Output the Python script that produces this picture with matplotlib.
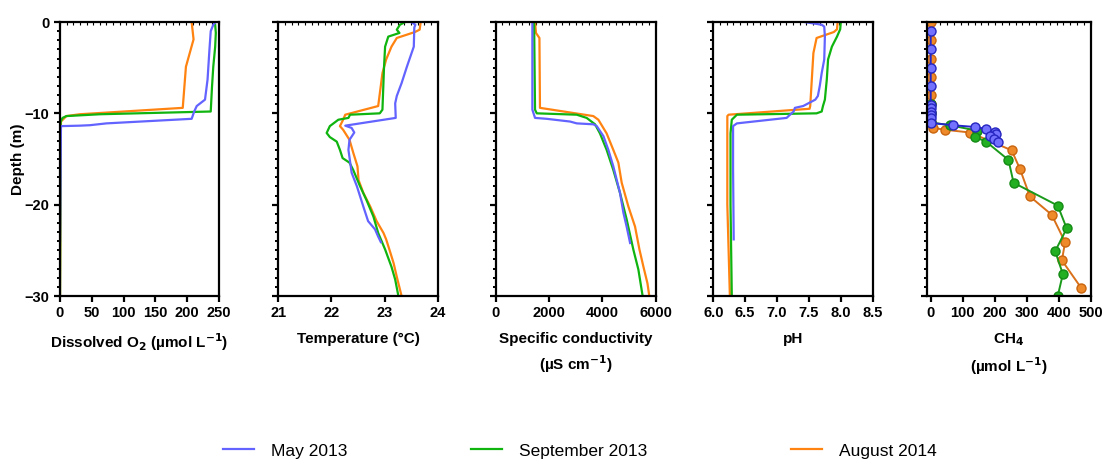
import matplotlib
matplotlib.use("Agg")
import matplotlib.pyplot as plt
import numpy as np

plt.rcParams['font.family'] = ['Liberation Sans', 'DejaVu Sans']
plt.rcParams['font.weight'] = 'bold'

# ---- datos ----
# Oxigeno disuelto (umol/L)
may_o2_d = [0, -0.3, -1.0, -3, -6.3, -8.5, -9.2, -9.8, -10.6, -11.1, -11.3, -11.35, -11.4, -24]
may_o2 = [245, 241, 237, 235, 232, 228, 215, 211, 207, 73, 47, 31, 1.5, 0]
sep_o2_d = [-0.3, -1.2, -2.7, -4.9, -7.1, -9.8, -10.1, -10.3, -10.5, -10.9, -30]
sep_o2 = [244, 245, 244, 241, 239, 237, 63, 10, 4, 1, 0]
aug_o2_d = [0, -1.9, -4.9, -9.4, -10.1, -10.3, -10.9, -30]
aug_o2 = [207, 210, 198, 193, 31, 10, 1.5, 0]

# Temperatura (C)
may_t_d = [0, -0.3, -0.6, -2.7, -4.9, -6.7, -8.1, -8.9, -10.5, -11.35, -11.6, -12.1, -12.9,
           -14.0, -16.5, -18.0, -20.2, -21.8, -22.7, -23.5, -24.1]
may_t = [23.50, 23.58, 23.56, 23.55, 23.42, 23.32, 23.23, 23.20, 23.21, 22.26, 22.38, 22.43, 22.34,
         22.32, 22.38, 22.48, 22.60, 22.69, 22.82, 22.88, 22.93]
sep_t_d = [0, -0.3, -0.84, -1.2, -1.6, -2.7, -4.9, -9.6, -10.0, -10.15, -10.5, -10.7, -11.4, -12.15,
           -12.6, -13.1, -14.0, -14.9, -15.4, -16.2, -18.0, -19.5, -21.3, -23.1, -24.9, -26.8, -28.2, -30]
sep_t = [23.39, 23.29, 23.23, 23.28, 23.07, 23.01, 22.99, 22.96, 22.91, 22.35, 22.32, 22.13, 21.97, 21.91,
         21.97, 22.10, 22.16, 22.21, 22.34, 22.41, 22.54, 22.66, 22.79, 22.88, 23.01, 23.13, 23.20, 23.26]
aug_t_d = [0, -0.84, -1.1, -1.75, -2.7, -4.1, -5.6, -9.2, -10.15, -10.7, -11.4, -11.8, -12.9, -14.3,
           -15.8, -17.3, -18.7, -20.2, -21.8, -23.1, -23.8, -24.9, -26.4, -27.9, -30]
aug_t = [23.68, 23.66, 23.57, 23.23, 23.13, 23.03, 22.96, 22.88, 22.26, 22.22, 22.16, 22.22, 22.34, 22.41,
         22.49, 22.51, 22.60, 22.73, 22.85, 22.98, 23.03, 23.09, 23.17, 23.23, 23.32]

# Conductividad especifica (uS/cm)
may_c_d = [0, -9.6, -10.5, -10.6, -10.9, -11.1, -11.2, -11.4, -12.5, -14.0, -15.8, -18.7, -20.9, -22.4, -24.2]
may_c = [1375, 1375, 1475, 1910, 2790, 3040, 3660, 3790, 4040, 4225, 4410, 4660, 4790, 4910, 5040]
sep_c_d = [0, -9.6, -10.0, -10.15, -10.5, -11.2, -12.2, -14.0, -16.2, -18.7, -21.6, -24.9, -27.1, -30]
sep_c = [1440, 1475, 1540, 3040, 3410, 3725, 3910, 4160, 4410, 4660, 4910, 5160, 5350, 5510]
aug_c_d = [0, -1.2, -1.75, -9.4, -10.3, -10.7, -12.2, -14.0, -15.4, -17.6, -20.2, -22.4, -24.9, -26.8, -28.6, -30]
aug_c = [1475, 1510, 1640, 1660, 3660, 3850, 4160, 4410, 4600, 4725, 4975, 5225, 5390, 5540, 5690, 5760]

# pH
may_ph_d = [0, -0.1, -0.3, -0.5, -1.6, -4.1, -5.6, -7.0, -8.1, -8.5, -9.2, -9.4, -9.8, -10.3, -10.5,
            -11.1, -11.4, -16, -23.8]
may_ph = [7.43, 7.52, 7.70, 7.74, 7.75, 7.74, 7.70, 7.67, 7.64, 7.60, 7.41, 7.28, 7.26, 7.18, 7.15,
          6.37, 6.31, 6.31, 6.32]
sep_ph_d = [0, -0.8, -1.6, -2.7, -4.1, -6.3, -8.5, -9.2, -9.8, -10.0, -10.15, -10.7, -12.2, -20, -30]
sep_ph = [8.0, 7.99, 7.94, 7.86, 7.80, 7.78, 7.75, 7.72, 7.70, 7.62, 6.37, 6.29, 6.27, 6.27, 6.29]
aug_ph_d = [0, -0.8, -1.1, -1.75, -3.4, -9.2, -9.5, -10.15, -10.3, -20, -30]
aug_ph = [7.95, 7.94, 7.89, 7.62, 7.57, 7.52, 7.51, 6.24, 6.22, 6.22, 6.26]

# CH4 (umol/L)
aug_ch4_d = [0, -2, -4, -6, -8, -9, -10, -11, -11.6, -11.8, -12.1, -14.05, -16.1, -19.1, -21.1, -24.1, -26.1, -29.1]
aug_ch4 = [0, 0, 0, 0, 0, 0, 0, 0, 8, 45, 123, 253, 279, 310, 378, 420, 410, 470]
sep_ch4_d = [-9, -10, -11, -11.3, -11.9, -12.6, -13.1, -15.1, -17.6, -20.1, -22.6, -25.1, -27.6, -30]
sep_ch4 = [0, 0, 0, 60, 145, 139, 173, 243, 259, 397, 425, 389, 413, 397]
may_ch4_d = [-1, -3, -5, -7, -9.05, -9.4, -9.8, -10.15, -10.5, -11.05, -11.3, -11.5, -11.7, -12.0,
             -12.3, -12.5, -12.8, -13.1]
may_ch4 = [0, 0, 0, 0, 0, 0, 0, 0, 0, 0, 69, 139, 173, 201, 205, 185, 198, 209]

etiquetas = ['May 2013', 'September 2013', 'August 2014']
col_may, col_sep, col_aug = '#6363ff', '#0fb40f', '#ff8310'

fig = plt.figure(figsize=(11.03, 4.62), dpi=100)

W, H = 1103.0, 462.0
bottom = 1 - 296 / H
height = (296 - 22) / H
posiciones = [(60, 159), (278.3, 159.4), (495.7, 160), (713.3, 159.4), (926.7, 164)]
ejes = [fig.add_axes([x / W, bottom, w / W, height]) for x, w in posiciones]

paneles = [
    (ejes[0], [(may_o2, may_o2_d), (sep_o2, sep_o2_d), (aug_o2, aug_o2_d)],
     (0, 250), [0, 50, 100, 150, 200, 250], 'Dissolved O$_\\mathbf{2}$ (µmol L$^{\\mathbf{-1}}$)'),
    (ejes[1], [(may_t, may_t_d), (sep_t, sep_t_d), (aug_t, aug_t_d)],
     (21, 24), [21, 22, 23, 24], 'Temperature (°C)'),
    (ejes[2], [(may_c, may_c_d), (sep_c, sep_c_d), (aug_c, aug_c_d)],
     (0, 6000), [0, 2000, 4000, 6000], 'Specific conductivity\n(µS cm$^{\\mathbf{-1}}$)'),
    (ejes[3], [(may_ph, may_ph_d), (sep_ph, sep_ph_d), (aug_ph, aug_ph_d)],
     (6.0, 8.5), [6.0, 6.5, 7.0, 7.5, 8.0, 8.5], 'pH'),
]

lineas = {}
orden = [(2, col_aug), (1, col_sep), (0, col_may)]
for ax, series, xlim, xt, xlabel in paneles:
    for idx, c in orden:
        x, d = series[idx]
        l, = ax.plot(x, d, color=c, lw=1.6)
        if ax is ejes[0]:
            lineas[idx] = l
    ax.set_xlim(*xlim)
    ax.set_xticks(xt)
    if ax is ejes[3]:
        ax.set_xticklabels(['%.1f' % v for v in xt])
    ax.set_xlabel(xlabel, fontsize=11, fontweight='bold', labelpad=8, linespacing=1.45)

# panel de metano con marcadores
ax5 = ejes[4]
ax5.plot(aug_ch4, aug_ch4_d, color='#d9701a', lw=1.4, marker='o', ms=6.5,
         mfc='#ee8a2a', mec='#c9650f', mew=1.0)
ax5.plot(sep_ch4, sep_ch4_d, color='#1a9a1a', lw=1.4, marker='o', ms=6.5,
         mfc='#22b022', mec='#138a13', mew=1.0)
ax5.plot(may_ch4, may_ch4_d, color='#2525c8', lw=1.4, marker='o', ms=6.5,
         mfc='#7272ff', mec='#2525c0', mew=1.0)
ax5.set_xlim(-12.5, 500)
ax5.set_xticks([0, 100, 200, 300, 400, 500])
ax5.set_xlabel('CH$_\\mathbf{4}$\n(µmol L$^{\\mathbf{-1}}$)', fontsize=11, fontweight='bold',
               labelpad=8, linespacing=1.45)

for i, ax in enumerate(ejes):
    ax.set_ylim(-30, 0)
    ax.set_yticks([-30, -20, -10, 0])
    ax.set_yticks(np.arange(-30, 1, 1), minor=True)
    for s in ax.spines.values():
        s.set_linewidth(1.6)
    ax.tick_params(axis='both', which='major', direction='out', length=4, width=1.6,
                   labelsize=10.5)
    ax.tick_params(axis='y', which='minor', direction='out', length=2.5, width=1.4)
    ax.tick_params(axis='x', which='minor', bottom=False)
    for t in ax.get_xticklabels() + ax.get_yticklabels():
        t.set_fontweight('bold')
    if i > 0:
        ax.set_yticklabels([])
    # marcas finas en el borde superior
    top = ax.secondary_xaxis('top')
    lo, hi = ax.get_xlim()
    top.set_xticks([])
    top.set_xticks(np.linspace(lo, hi, 25), minor=True)
    top.tick_params(which='minor', direction='in', length=2, width=0.8)
    top.spines['top'].set_visible(False)

ejes[0].set_ylabel('Depth (m)', fontsize=11, fontweight='bold', labelpad=0)

# leyenda: una entrada por posicion
x_leyenda = [223, 471, 791]
for idx, xl in enumerate(x_leyenda):
    fig.legend(handles=[lineas[idx]], labels=[etiquetas[idx]],
               loc='center left', bbox_to_anchor=(xl / W, 1 - 451 / H),
               frameon=False, borderpad=0, borderaxespad=0, handlelength=1.8,
               handletextpad=0.95, prop={'weight': 'normal', 'size': 12.5})

plt.savefig('out.png', dpi=100)
